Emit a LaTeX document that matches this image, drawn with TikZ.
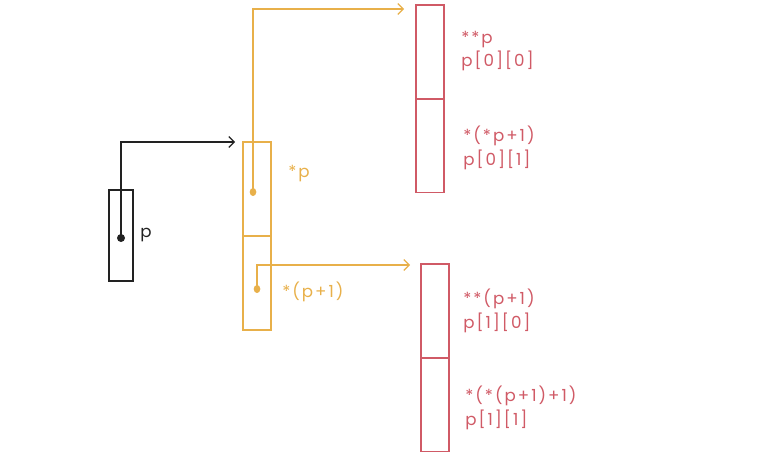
\documentclass[tikz,border=0pt]{standalone}
\usepackage{fontspec}
\setmainfont{Poppins}[LetterSpace=12]
\usetikzlibrary{arrows.meta, shapes.geometric}

\definecolor{ptrblack}{HTML}{222222}
\definecolor{rowyellow}{HTML}{E8B04A}
\definecolor{cellred}{HTML}{D05A66}

\tikzset{
  cellbox/.style={draw, line width=0.9pt, inner sep=0pt, minimum width=21pt, minimum height=70.5pt},
  link/.style={line width=0.9pt, -{Straight Barb[length=4pt, width=8pt]}},
  dot/.style={fill, ellipse, inner sep=0pt, minimum width=5pt, minimum height=6pt},
  lbl/.style={anchor=west, inner sep=0pt, align=left, font=\fontsize{12.5}{17.5}\selectfont}
}

\begin{document}
\begin{tikzpicture}[x=0.75pt, y=-0.75pt]
  \useasboundingbox (0,0) rectangle (773,460);

  % pointer p
  \node[cellbox, ptrblack, minimum width=18pt, minimum height=68.25pt] (pcell) at (121,235.5) {};
  \node[dot, ptrblack, minimum width=6pt] (pdot) at (121,238) {};
  \node[lbl, ptrblack] (plbl) at (140,235) {p};

  % row pointers *p, *(p+1)
  \node[cellbox, rowyellow] (row0) at (257,189) {};
  \node[cellbox, rowyellow] (row1) at (257,283) {};
  \node[dot, rowyellow] (rdot0) at (253,192) {};
  \node[dot, rowyellow] (rdot1) at (257,289) {};
  \node[lbl, rowyellow] (row0lbl) at (288,174) {*p};
  \node[lbl, rowyellow] (row1lbl) at (282,292) {*(p+1)};

  % elements
  \node[cellbox, cellred] (e00) at (430,52) {};
  \node[cellbox, cellred] (e01) at (430,145.5) {};
  \node[cellbox, cellred] (e10) at (435,311) {};
  \node[cellbox, cellred] (e11) at (435,404.5) {};
  \node[lbl, cellred] (e00lbl) at (461,51) {**p\\p[0][0]};
  \node[lbl, cellred] (e01lbl) at (463,148) {*(*p+1)\\p[0][1]};
  \node[lbl, cellred] (e10lbl) at (463,311) {**(p+1)\\p[1][0]};
  \node[lbl, cellred] (e11lbl) at (465,408) {*(*(p+1)+1)\\p[1][1]};

  % arrows
  \coordinate (ptip) at (235,142);
  \coordinate (rtip0) at (404,9);
  \coordinate (rtip1) at (410,265);
  \draw[link, ptrblack] (pdot.center) |- (ptip);
  \draw[link, rowyellow] (rdot0.center) |- (rtip0);
  \draw[link, rowyellow] (rdot1.center) |- (rtip1);
\end{tikzpicture}
\end{document}
